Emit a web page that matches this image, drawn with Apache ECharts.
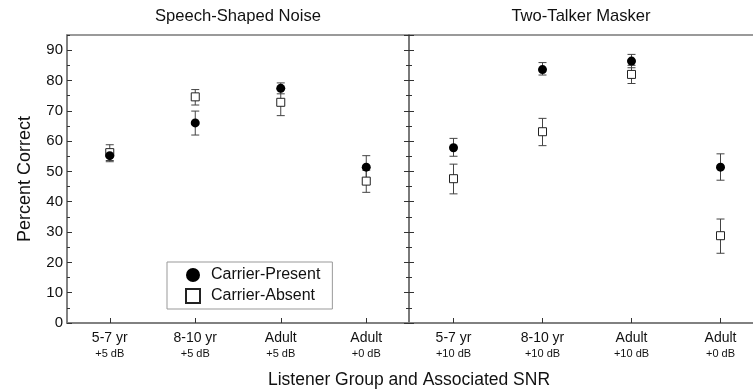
<!DOCTYPE html>
<html>
<head>
<meta charset="utf-8">
<script src="https://cdn.jsdelivr.net/npm/echarts@6/dist/echarts.min.js"></script>
<style>
  html, body { margin: 0; padding: 0; background: #fff; }
  #chart { width: 753px; height: 392px; }
</style>
</head>
<body>
<div id="chart"></div>
<script>
// categories
const groups = ['5-7 yr', '8-10 yr', 'Adult', 'Adult']
const snrSSN = ['+5 dB', '+5 dB', '+5 dB', '+0 dB']
const snrTTM = ['+10 dB', '+10 dB', '+10 dB', '+0 dB']

// Speech-Shaped Noise
const ssnPresent = [55.2, 66.0, 77.4, 51.4]
const ssnPresentLo = [53.2, 62.0, 75.6, 47.6]
const ssnPresentHi = [57.2, 69.9, 79.2, 55.2]
const ssnAbsent = [56.2, 74.6, 72.8, 46.8]
const ssnAbsentLo = [53.6, 71.9, 68.4, 43.1]
const ssnAbsentHi = [58.8, 77.0, 77.0, 50.4]

// Two-Talker Masker
const ttmPresent = [57.8, 83.6, 86.4, 51.4]
const ttmPresentLo = [55.0, 81.8, 84.2, 47.1]
const ttmPresentHi = [60.9, 85.9, 88.6, 55.8]
const ttmAbsent = [47.6, 63.1, 82.0, 28.8]
const ttmAbsentLo = [42.6, 58.5, 79.0, 23.0]
const ttmAbsentHi = [52.4, 67.5, 85.0, 34.3]

const FONT = 'Liberation Sans, Arial, sans-serif'
const AXIS_COLOR = '#7a7a7a'
const TICK_COLOR = '#333'

const chart = echarts.init(document.getElementById('chart'))

// 误差线
function errSeries(lo, hi, xi, yi) {
  return {
    type: 'custom',
    xAxisIndex: xi,
    yAxisIndex: yi,
    z: 1,
    silent: true,
    data: lo.map((v, i) => [i, v, hi[i]]),
    renderItem(params, api) {
      const p1 = api.coord([api.value(0), api.value(1)])
      const p2 = api.coord([api.value(0), api.value(2)])
      const w = 4
      const style = { stroke: '#444', lineWidth: 1 }
      return {
        type: 'group',
        children: [
          { type: 'line', shape: { x1: p1[0], y1: p1[1], x2: p2[0], y2: p2[1] }, style },
          { type: 'line', shape: { x1: p1[0] - w, y1: p1[1], x2: p1[0] + w, y2: p1[1] }, style },
          { type: 'line', shape: { x1: p2[0] - w, y1: p2[1], x2: p2[0] + w, y2: p2[1] }, style }
        ]
      }
    }
  }
}

function xAxisFor(gi, snr) {
  return {
    type: 'category',
    gridIndex: gi,
    data: groups,
    boundaryGap: true,
    axisLine: { show: true, lineStyle: { color: AXIS_COLOR, width: 1.5 } },
    axisTick: { show: true, inside: true, alignWithLabel: true, length: 5, lineStyle: { color: TICK_COLOR } },
    axisLabel: {
      margin: 7,
      lineHeight: 16,
      formatter: (v, i) => '{a|' + v + '}\n{b|' + snr[i] + '}',
      rich: {
        a: { fontFamily: FONT, fontSize: 14, color: '#111', lineHeight: 17 },
        b: { fontFamily: FONT, fontSize: 11, color: '#111', lineHeight: 14 }
      }
    },
    splitLine: { show: false }
  }
}

// 主刻度（10）
function yAxisFor(gi, pos, showLabel, name) {
  return {
    type: 'value',
    gridIndex: gi,
    position: pos,
    min: 0,
    max: 95,
    interval: 10,
    name: name || '',
    nameLocation: 'middle',
    nameRotate: 90,
    nameGap: 33,
    nameTextStyle: { fontFamily: FONT, fontSize: 18, color: '#111' },
    axisLine: { show: true, lineStyle: { color: AXIS_COLOR, width: 1.5 } },
    axisTick: { show: true, inside: true, length: 5, lineStyle: { color: TICK_COLOR } },
    axisLabel: { show: showLabel, showMaxLabel: false, fontFamily: FONT, fontSize: 15, color: '#111', margin: 4 },
    splitLine: { show: false }
  }
}

// 次刻度（5）
function yMinorFor(gi, pos) {
  return {
    type: 'value',
    gridIndex: gi,
    position: pos,
    min: 0,
    max: 95,
    interval: 5,
    axisLine: { show: false },
    axisTick: { show: true, inside: true, length: 3, lineStyle: { color: TICK_COLOR } },
    axisLabel: { show: false },
    splitLine: { show: false }
  }
}

const presentStyle = { color: '#000', opacity: 1 }
const absentStyle = { color: '#fff', borderColor: '#222', borderWidth: 1, opacity: 1 }

const option = {
  animation: false,
  backgroundColor: '#fff',
  title: [
    { text: 'Speech-Shaped Noise', left: 238, top: 8, textAlign: 'center', padding: 0,
      textStyle: { fontFamily: FONT, fontSize: 16.6, fontWeight: 'normal', color: '#111' } },
    { text: 'Two-Talker Masker', left: 581, top: 8, textAlign: 'center', padding: 0,
      textStyle: { fontFamily: FONT, fontSize: 16.6, fontWeight: 'normal', color: '#111' } },
    { text: 'Listener Group and Associated SNR', left: 409, top: 371, textAlign: 'center', padding: 0,
      textStyle: { fontFamily: FONT, fontSize: 17.5, fontWeight: 'normal', color: '#111' } }
  ],
  legend: {
    orient: 'vertical',
    left: 167,
    top: 262,
    padding: [5, 12, 5, 18],
    itemWidth: 14,
    itemHeight: 14,
    itemGap: 5,
    borderColor: '#999',
    borderWidth: 1,
    backgroundColor: '#fff',
    data: [
      { name: 'Carrier-Present', icon: 'circle' },
      { name: 'Carrier-Absent', icon: 'rect' }
    ],
    textStyle: { fontFamily: FONT, fontSize: 16, color: '#111', padding: [0, 0, 0, 6] }
  },
  grid: [
    { left: 67, top: 35, width: 342, bottom: 69, show: true, borderColor: AXIS_COLOR, borderWidth: 1.5,
      outerBoundsMode: 'none' },
    { left: 409, top: 35, width: 356, bottom: 69, show: true, borderColor: AXIS_COLOR, borderWidth: 1.5,
      outerBoundsMode: 'none' }
  ],
  xAxis: [xAxisFor(0, snrSSN), xAxisFor(1, snrTTM)],
  yAxis: [
    yAxisFor(0, 'left', true, 'Percent Correct'),
    yAxisFor(0, 'right', false),
    yAxisFor(1, 'left', false),
    yMinorFor(0, 'left'),
    yMinorFor(0, 'right'),
    yMinorFor(1, 'left')
  ],
  series: [
    errSeries(ssnPresentLo, ssnPresentHi, 0, 0),
    errSeries(ssnAbsentLo, ssnAbsentHi, 0, 0),
    errSeries(ttmPresentLo, ttmPresentHi, 1, 2),
    errSeries(ttmAbsentLo, ttmAbsentHi, 1, 2),
    { name: 'Carrier-Absent', type: 'scatter', xAxisIndex: 0, yAxisIndex: 0, z: 3,
      symbol: 'rect', symbolSize: 8, itemStyle: absentStyle, data: ssnAbsent },
    { name: 'Carrier-Present', type: 'scatter', xAxisIndex: 0, yAxisIndex: 0, z: 4,
      symbol: 'circle', symbolSize: 9, itemStyle: presentStyle, data: ssnPresent },
    { name: 'Carrier-Absent', type: 'scatter', xAxisIndex: 1, yAxisIndex: 2, z: 3,
      symbol: 'rect', symbolSize: 8, itemStyle: absentStyle, data: ttmAbsent },
    { name: 'Carrier-Present', type: 'scatter', xAxisIndex: 1, yAxisIndex: 2, z: 4,
      symbol: 'circle', symbolSize: 9, itemStyle: presentStyle, data: ttmPresent }
  ]
}

chart.setOption(option)
</script>
</body>
</html>
